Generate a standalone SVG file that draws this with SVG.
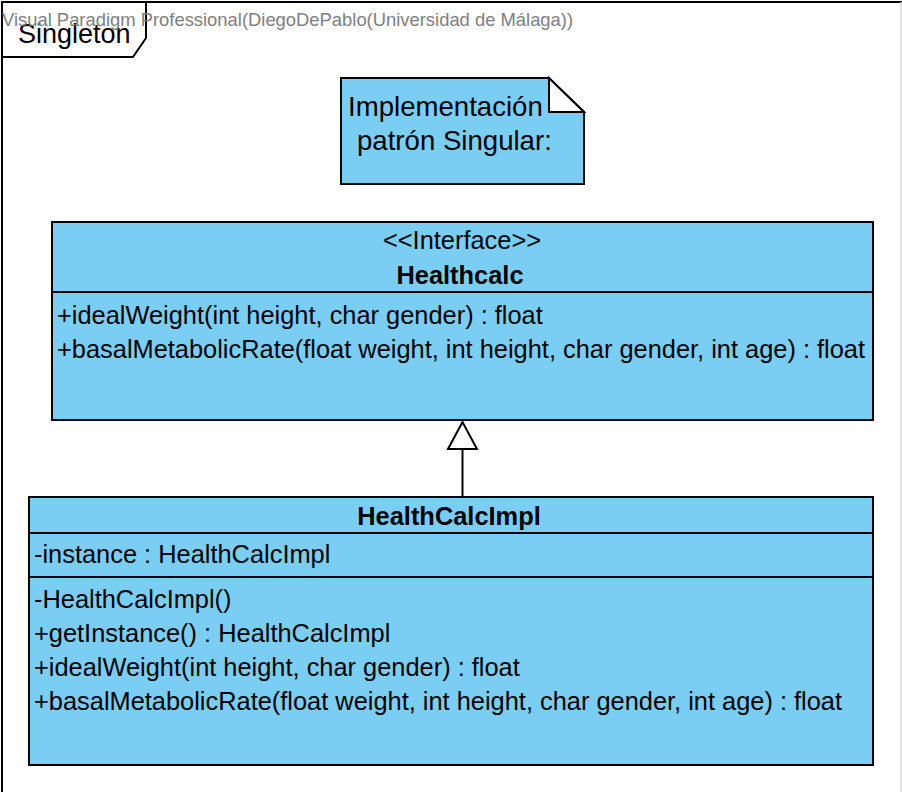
<svg xmlns="http://www.w3.org/2000/svg" width="902" height="792" viewBox="0 0 902 792">
<style>
  .box { fill: #7acef3; stroke: #000; stroke-width: 2; }
  .ln { stroke: #000; stroke-width: 2; fill: none; }
  .t { font-family: "Liberation Sans", Arial, sans-serif; font-size: 25.4px; fill: #000; }
  .n { font-size: 27.6px; }
  .b { font-weight: bold; }
  .c { text-anchor: middle; }
</style>
<rect width="902" height="792" fill="#fff"/>
<g id="frame">
  <path class="ln" d="M2,800 V2 H902"/>
  <line x1="901" y1="2" x2="901" y2="792" stroke="#d8d8d8" stroke-width="1.5"/>
  <path class="ln" d="M2,57 H133 L146,38 V2" fill="#fff"/>
  <text x="18" y="43" font-family="Liberation Sans, Arial, sans-serif" font-size="27" fill="#000">Singleton</text>
  <text x="2" y="26" font-family="Liberation Sans, Arial, sans-serif" font-size="18.4" fill="#808080">Visual Paradigm Professional(DiegoDePablo(Universidad de Málaga))</text>
</g>
<g id="note">
  <path class="box" d="M341,78 H549 L584,112 V184 H341 Z"/>
  <path d="M549,78 V112 H584 Z" fill="#fff" stroke="#000" stroke-width="2"/>
  <text class="t n" x="348" y="116">Implementación</text>
  <text class="t n" x="357" y="150">patrón Singular:</text>
</g>
<g id="Healthcalc">
  <rect class="box" x="52" y="222" width="821" height="198"/>
  <line class="ln" x1="52" y1="292" x2="873" y2="292"/>
  <text class="t c" x="462" y="249">&lt;&lt;Interface&gt;&gt;</text>
  <text class="t c b" x="460" y="284">Healthcalc</text>
  <text class="t" x="57" y="324">+idealWeight(int height, char gender) : float</text>
  <text class="t" x="57" y="358">+basalMetabolicRate(float weight, int height, char gender, int age) : float</text>
</g>
<g id="HealthCalcImpl">
  <rect class="box" x="29" y="497" width="844" height="268"/>
  <line class="ln" x1="29" y1="533" x2="873" y2="533"/>
  <line class="ln" x1="29" y1="577" x2="873" y2="577"/>
  <text class="t c b" x="449" y="525">HealthCalcImpl</text>
  <text class="t" x="34" y="563">-instance : HealthCalcImpl</text>
  <text class="t" x="34" y="608">-HealthCalcImpl()</text>
  <text class="t" x="34" y="642">+getInstance() : HealthCalcImpl</text>
  <text class="t" x="34" y="676">+idealWeight(int height, char gender) : float</text>
  <text class="t" x="34" y="710">+basalMetabolicRate(float weight, int height, char gender, int age) : float</text>
</g>
<g id="connectors">
  <line class="ln" x1="462.5" y1="497" x2="462.5" y2="449"/>
  <path d="M462.5,422 L448,449 H477 Z" fill="#fff" stroke="#000" stroke-width="2"/>
</g>
</svg>
